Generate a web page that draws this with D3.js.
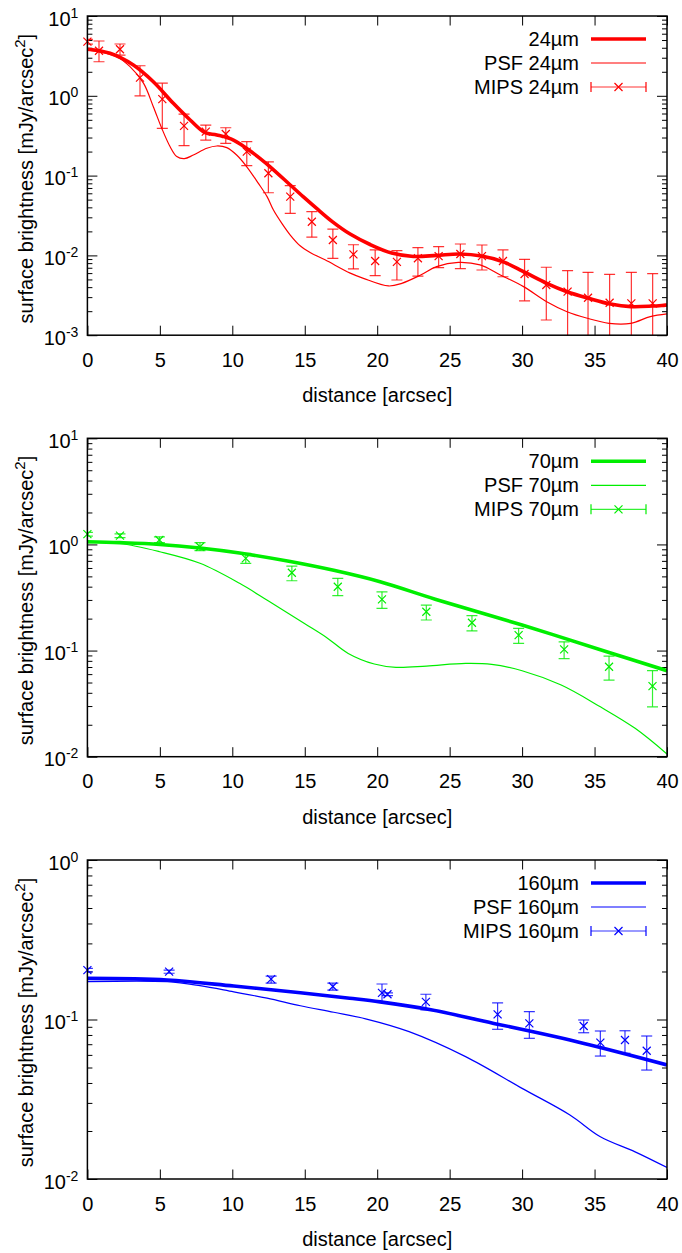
<!DOCTYPE html>
<html>
<head>
<meta charset="utf-8">
<script src="https://cdn.jsdelivr.net/npm/d3@7"></script>
<style>
  body { margin: 0; background: #fff; }
  svg text { font-family: "Liberation Sans", Arial, sans-serif; fill: #000; }
</style>
</head>
<body>
<div id="chart"></div>
<script>
// ---- data ----
const xTicks = [0, 5, 10, 15, 20, 25, 30, 35, 40]

// 24 micron
const mips24X  = [0, 0.8, 2.25, 3.63, 5.17, 6.67, 8.17, 9.55, 11.0, 12.49, 14.0, 15.49, 16.94, 18.36, 19.86, 21.36, 22.81, 24.24, 25.74, 27.23, 28.68, 30.17, 31.67, 33.14, 34.55, 36.04, 37.54, 39.01]
const mips24   = [4.77, 3.67, 3.83, 1.69, 0.91, 0.42, 0.355, 0.332, 0.20, 0.107, 0.0545, 0.0264, 0.0156, 0.0103, 0.0085, 0.0083, 0.0092, 0.0098, 0.0104, 0.0098, 0.0085, 0.00585, 0.00426, 0.00351, 0.00295, 0.00255, 0.00251, 0.00251]
const mips24Lo = [4.45, 2.67, 3.24, 1.0, 0.39, 0.237, 0.279, 0.254, 0.133, 0.061, 0.0337, 0.0169, 0.0092, 0.00676, 0.00557, 0.00492, 0.0055, 0.00702, 0.00683, 0.00656, 0.0054, 0.0027, 0.00155, 0.00059, -0.00024, -0.00069, -0.00112, -0.00088]
const mips24Hi = [5.1, 4.86, 4.46, 2.38, 1.44, 0.59, 0.43, 0.398, 0.266, 0.149, 0.0747, 0.0353, 0.0214, 0.0136, 0.0117, 0.01146, 0.0125, 0.01285, 0.0139, 0.0135, 0.0117, 0.00893, 0.0071, 0.00643, 0.00614, 0.00579, 0.00614, 0.0059]
const model24X = [0, 1.56, 3.17, 4.55, 5.93, 7.09, 8.12, 8.93, 10.08, 11.46, 12.61, 14.0, 14.91, 15.8, 16.9, 18.13, 19.51, 21.0, 22.5, 24.1, 25.7, 27.2, 28.7, 30.1, 31.7, 33.1, 34.6, 36.1, 37.5, 39.0, 40]
const model24  = [3.83, 3.41, 2.43, 1.50, 0.805, 0.498, 0.345, 0.323, 0.279, 0.190, 0.129, 0.0762, 0.054, 0.039, 0.0265, 0.0185, 0.0137, 0.0107, 0.0097, 0.0100, 0.0104, 0.0098, 0.0083, 0.00625, 0.00447, 0.00351, 0.0029, 0.00246, 0.00228, 0.00232, 0.00239]
const psf24X   = [0, 2.02, 2.94, 3.87, 4.55, 5.13, 5.71, 6.17, 6.69, 7.31, 8.24, 8.93, 9.62, 10.3, 11.0, 11.8, 12.4, 12.84, 13.42, 14.0, 14.68, 15.4, 16.4, 18.14, 19.05, 20.78, 21.7, 23.0, 24.1, 25.6, 27.1, 28.5, 30.1, 31.7, 33.1, 34.5, 36.0, 37.5, 38.85, 40]
const psf24    = [3.75, 3.09, 2.32, 1.44, 0.73, 0.392, 0.230, 0.173, 0.163, 0.181, 0.22, 0.235, 0.224, 0.181, 0.129, 0.080, 0.0545, 0.037, 0.0252, 0.018, 0.0132, 0.0108, 0.0088, 0.0060, 0.00516, 0.00414, 0.00447, 0.00568, 0.00724, 0.00818, 0.0076, 0.00568, 0.00406, 0.00263, 0.00197, 0.00163, 0.00141, 0.00141, 0.00171, 0.00185]

// 70 micron
const mips70X  = [0, 2.25, 4.97, 7.77, 10.93, 14.11, 17.28, 20.33, 23.39, 26.54, 29.76, 32.9, 36.0, 39.0]
const mips70   = [1.25, 1.21, 1.10, 0.95, 0.74, 0.541, 0.399, 0.304, 0.232, 0.183, 0.140, 0.1026, 0.0704, 0.0462]
const mips70Lo = [1.20, 1.16, 1.04, 0.873, 0.664, 0.455, 0.329, 0.25, 0.194, 0.153, 0.117, 0.084, 0.0527, 0.0295]
const mips70Hi = [1.30, 1.26, 1.18, 1.04, 0.824, 0.625, 0.479, 0.358, 0.268, 0.213, 0.162, 0.121, 0.0887, 0.0646]
const model70X = [0, 2.25, 5.0, 7.77, 10.5, 14.0, 17.0, 20.2, 24.0, 30.0, 36.0, 40]
const model70  = [1.06, 1.04, 1.0, 0.925, 0.83, 0.69, 0.57, 0.445, 0.305, 0.174, 0.096, 0.0646]
const psf70X   = [0, 2.25, 5.0, 7.77, 10.5, 12.5, 14.98, 16.5, 18.0, 19.8, 21.3, 23.4, 26.1, 27.9, 30.0, 32.7, 35.4, 37.8, 40]
const psf70    = [1.04, 1.02, 0.853, 0.664, 0.43, 0.293, 0.180, 0.133, 0.094, 0.0747, 0.0695, 0.0715, 0.0757, 0.0741, 0.0646, 0.0473, 0.0295, 0.0185, 0.0106]

// 160 micron
const mips160X  = [0, 5.64, 12.68, 16.94, 20.33, 20.71, 23.36, 28.31, 30.5, 34.25, 35.4, 37.1, 38.6]
const mips160   = [0.204, 0.1995, 0.179, 0.161, 0.147, 0.144, 0.129, 0.1077, 0.0946, 0.091, 0.0716, 0.0744, 0.0637]
const mips160Lo = [0.199, 0.195, 0.169, 0.153, 0.129, 0.141, 0.115, 0.0868, 0.0762, 0.0826, 0.059, 0.0614, 0.0482]
const mips160Hi = [0.209, 0.204, 0.187, 0.169, 0.167, 0.147, 0.144, 0.127, 0.112, 0.0993, 0.0847, 0.085, 0.0788]
const model160X = [0, 5.5, 10.1, 14.7, 18.1, 20.2, 23.7, 28.3, 30.6, 33.3, 35.4, 40]
const model160  = [0.181, 0.177, 0.162, 0.147, 0.136, 0.129, 0.115, 0.0935, 0.0845, 0.0745, 0.0668, 0.0519]
const psf160X   = [0, 5.5, 7.77, 10.1, 12.4, 14.7, 17.0, 19.2, 22.2, 26.1, 30.0, 33.3, 35.4, 37.8, 40]
const psf160    = [0.1726, 0.1726, 0.163, 0.149, 0.136, 0.122, 0.111, 0.101, 0.0839, 0.0585, 0.037, 0.0252, 0.0184, 0.0148, 0.0118]

// ---- layout ----
const FS = 20, SUP = 14

const svg = d3.select("#chart")
    .append("svg")
    .attr("width", 682)
    .attr("height", 1253)

const x = d3.scaleLinear()
    .domain([0, 40])
    .range([87.4, 667])

const zip = (xs, ys) => xs.map((v, i) => [v, ys[i]])

const panels = [
    { top: 16, bottom: 335.2, yMin: 1e-3, yMax: 10, color: "#ff0000", band: "24µm",
      model: zip(model24X, model24), psf: zip(psf24X, psf24),
      mips: mips24X.map((v, i) => ({ x: v, y: mips24[i], lo: mips24Lo[i], hi: mips24Hi[i] })) },
    { top: 438.3, bottom: 756.7, yMin: 1e-2, yMax: 10, color: "#00ee00", band: "70µm",
      model: zip(model70X, model70), psf: zip(psf70X, psf70),
      mips: mips70X.map((v, i) => ({ x: v, y: mips70[i], lo: mips70Lo[i], hi: mips70Hi[i] })) },
    { top: 860, bottom: 1179, yMin: 1e-2, yMax: 1, color: "#0000ff", band: "160µm",
      model: zip(model160X, model160), psf: zip(psf160X, psf160),
      mips: mips160X.map((v, i) => ({ x: v, y: mips160[i], lo: mips160Lo[i], hi: mips160Hi[i] })) }
]

function expLabel(text) {
    text.each(function (d) {
        const e = Math.round(Math.log10(d))
        const t = d3.select(this).text(null)
        t.append("tspan").text("10")
        t.append("tspan").attr("dy", -8).attr("font-size", SUP).text(e)
    })
}

panels.forEach((p, i) => {
    const g = svg.append("g")
    const x0 = x.range()[0], x1 = x.range()[1]

    const y = d3.scaleLog()
        .domain([p.yMin, p.yMax])
        .range([p.bottom, p.top])

    const majors = d3.range(Math.log10(p.yMin), Math.log10(p.yMax) + 1).map(e => Math.pow(10, e))
    const minors = []
    majors.slice(0, -1).forEach(m => { for (let k = 2; k < 10; k++) minors.push(m * k) })

    // x axis (ticks inward, labels below)
    g.append("g")
        .attr("transform", `translate(0, ${p.bottom})`)
        .call(d3.axisBottom(x).tickValues(xTicks).tickSizeInner(-9.5).tickSizeOuter(0).tickPadding(17.5))
        .call(a => a.select(".domain").remove())
        .call(a => a.selectAll("text").attr("font-size", FS))
    g.append("g")
        .attr("transform", `translate(0, ${p.top})`)
        .call(d3.axisTop(x).tickValues(xTicks).tickSizeInner(-9.5).tickSizeOuter(0).tickFormat(""))
        .call(a => a.select(".domain").remove())

    // y axis left: majors with labels, minors
    g.append("g")
        .attr("transform", `translate(${x0}, 0)`)
        .call(d3.axisLeft(y).tickValues(majors).tickSizeInner(-10).tickSizeOuter(0).tickPadding(9))
        .call(a => a.select(".domain").remove())
        .call(a => a.selectAll("text").attr("font-size", FS).attr("dy", "0.45em").call(expLabel))
    g.append("g")
        .attr("transform", `translate(${x0}, 0)`)
        .call(d3.axisLeft(y).tickValues(minors).tickSizeInner(-5).tickSizeOuter(0).tickFormat(""))
        .call(a => a.select(".domain").remove())
    // y axis right (mirror ticks)
    g.append("g")
        .attr("transform", `translate(${x1}, 0)`)
        .call(d3.axisRight(y).tickValues(majors).tickSizeInner(-10).tickSizeOuter(0).tickFormat(""))
        .call(a => a.select(".domain").remove())
    g.append("g")
        .attr("transform", `translate(${x1}, 0)`)
        .call(d3.axisRight(y).tickValues(minors).tickSizeInner(-5).tickSizeOuter(0).tickFormat(""))
        .call(a => a.select(".domain").remove())

    g.selectAll(".tick line").attr("stroke", "#000").attr("stroke-width", 1)

    // axis titles
    g.append("text")
        .attr("x", (x0 + x1) / 2)
        .attr("y", p.bottom + 67)
        .attr("text-anchor", "middle")
        .attr("font-size", FS)
        .text("distance [arcsec]")

    const yl = g.append("text")
        .attr("transform", `translate(33, ${(p.top + p.bottom) / 2 + 3}) rotate(-90)`)
        .attr("text-anchor", "middle")
        .attr("font-size", FS)
    yl.append("tspan").text("surface brightness [mJy/arcsec")
    yl.append("tspan").attr("dy", -8).attr("font-size", SUP + 1).text("2")
    yl.append("tspan").attr("dy", 8).text("]")

    // clip region
    const clipId = "clip" + i
    svg.append("clipPath").attr("id", clipId)
        .append("rect")
        .attr("x", x0).attr("y", p.top)
        .attr("width", x1 - x0).attr("height", p.bottom - p.top)

    const plot = g.append("g").attr("clip-path", `url(#${clipId})`)
    const line = d3.line()
        .x(d => x(d[0]))
        .y(d => y(d[1]))
        .curve(d3.curveCatmullRom.alpha(0.5))

    // error bars
    const bars = plot.selectAll(".bar")
        .data(p.mips)
        .enter().append("g")
        .attr("stroke", p.color)
        .attr("stroke-width", 1.2)
        .attr("stroke-opacity", 0.8)
    bars.append("line")
        .attr("x1", d => x(d.x)).attr("x2", d => x(d.x))
        .attr("y1", d => y(Math.max(d.lo, p.yMin / 2)))
        .attr("y2", d => y(d.hi))
    bars.append("line")
        .attr("x1", d => x(d.x) - 5.5).attr("x2", d => x(d.x) + 5.5)
        .attr("y1", d => y(d.hi)).attr("y2", d => y(d.hi))
    bars.filter(d => d.lo >= p.yMin).append("line")
        .attr("x1", d => x(d.x) - 5.5).attr("x2", d => x(d.x) + 5.5)
        .attr("y1", d => y(d.lo)).attr("y2", d => y(d.lo))

    plot.append("path")
        .datum(p.psf)
        .attr("d", line)
        .attr("fill", "none")
        .attr("stroke", p.color)
        .attr("stroke-width", 1.2)

    plot.append("path")
        .datum(p.model)
        .attr("d", line)
        .attr("fill", "none")
        .attr("stroke", p.color)
        .attr("stroke-width", 3.6)

    // point markers (x), not clipped
    g.selectAll(".pt")
        .data(p.mips)
        .enter().append("path")
        .attr("d", d => {
            const cx = x(d.x), cy = y(d.y), s = 4
            return `M${cx - s},${cy - s}L${cx + s},${cy + s}M${cx - s},${cy + s}L${cx + s},${cy - s}`
        })
        .attr("stroke", p.color)
        .attr("stroke-width", 1.2)

    // border
    g.append("rect")
        .attr("x", x0).attr("y", p.top)
        .attr("width", x1 - x0).attr("height", p.bottom - p.top)
        .attr("fill", "none")
        .attr("stroke", "#000")
        .attr("stroke-width", 1.5)

    // legend
    const lx0 = 591, lx1 = 646, tx = 579
    const rows = [p.top + 23, p.top + 47, p.top + 71]
    const labels = [p.band, "PSF " + p.band, "MIPS " + p.band]
    const leg = g.append("g")
    leg.selectAll("text")
        .data(labels)
        .enter().append("text")
        .attr("x", tx)
        .attr("y", (d, k) => rows[k] + 7)
        .attr("text-anchor", "end")
        .attr("font-size", FS)
        .text(d => d)
    leg.append("line").attr("x1", lx0).attr("x2", lx1).attr("y1", rows[0]).attr("y2", rows[0])
        .attr("stroke", p.color).attr("stroke-width", 3.6)
    leg.append("line").attr("x1", lx0).attr("x2", lx1).attr("y1", rows[1]).attr("y2", rows[1])
        .attr("stroke", p.color).attr("stroke-width", 1.2)
    const m = leg.append("g").attr("stroke", p.color).attr("stroke-width", 1.2)
    m.append("line").attr("x1", lx0).attr("x2", lx1).attr("y1", rows[2]).attr("y2", rows[2]).attr("stroke-opacity", 0.8)
    m.append("line").attr("x1", lx0).attr("x2", lx0).attr("y1", rows[2] - 5).attr("y2", rows[2] + 5)
    m.append("line").attr("x1", lx1).attr("x2", lx1).attr("y1", rows[2] - 5).attr("y2", rows[2] + 5)
    const mx = (lx0 + lx1) / 2
    m.append("path").attr("d", `M${mx - 4},${rows[2] - 4}L${mx + 4},${rows[2] + 4}M${mx - 4},${rows[2] + 4}L${mx + 4},${rows[2] - 4}`)
})
</script>
</body>
</html>
